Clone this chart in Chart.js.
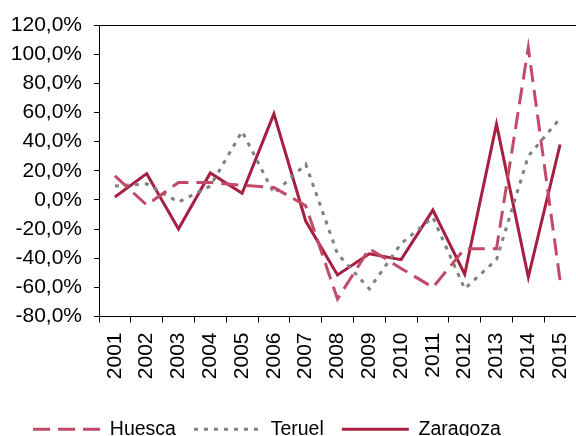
<!DOCTYPE html>
<html>
<head>
<meta charset="utf-8">
<script src="https://cdn.jsdelivr.net/npm/chart.js@4"></script>
<style>
html,body{margin:0;padding:0;background:#fff;}
#wrap{width:576px;height:436px;position:relative;}
</style>
</head>
<body>
<div id="wrap"><canvas id="c" width="576" height="436"></canvas></div>
<script>
const years = ['2001','2002','2003','2004','2005','2006','2007','2008','2009','2010','2011','2012','2013','2014','2015'];
const huesca = [16.5, -3.5, 12, 12, 10, 8.5, -4, -68, -33.5, -47, -60, -33.5, -33.5, 104.5, -55.5];
const teruel = [9.5, 11, -1.5, 9.5, 47, 4.5, 24.5, -37, -61, -30, -12, -61, -41, 30, 56];
const zaragoza = [2, 18, -20, 18.5, 4.5, 59, -14.5, -51.5, -37, -41, -7, -51, 52, -53, 38];
const yMin = -80, yMax = 120, yStep = 20;

const FONT = "'Liberation Sans', Arial, sans-serif";

const shiftLegend = {
  id: 'shiftLegend',
  afterLayout(chart) {
    const l = chart.legend;
    if (l) { l.left -= 21; l.right -= 21; l.top += 13; l.bottom += 13; }
  }
};

new Chart(document.getElementById('c'), {
  type: 'line',
  data: {
    labels: years,
    datasets: [
      { label: 'Huesca', data: huesca, borderColor: '#C04A68', borderWidth: 3, borderDash: [17, 8], pointRadius: 0, tension: 0, fill: false },
      { label: 'Teruel', data: teruel, borderColor: '#808080', borderWidth: 3, borderDash: [4, 6], pointRadius: 0, tension: 0, fill: false },
      { label: 'Zaragoza', data: zaragoza, borderColor: '#A61F40', borderWidth: 3, pointRadius: 0, tension: 0, fill: false }
    ]
  },
  options: {
    responsive: false,
    animation: false,
    devicePixelRatio: 1,
    layout: { padding: { top: 25, right: 0, left: 0, bottom: 0 } },
    plugins: {
      tooltip: { enabled: false },
      legend: {
        position: 'bottom',
        labels: {
          usePointStyle: true,
          pointStyle: 'line',
          pointStyleWidth: 67,
          boxHeight: 3,
          padding: 18,
          color: '#000',
          font: { family: FONT, size: 19.5 },
          generateLabels(chart) {
            const items = Chart.defaults.plugins.legend.labels.generateLabels(chart);
            items.forEach((it, i) => {
              const ds = chart.data.datasets[i];
              it.lineDash = ds.borderDash || [];
              it.lineWidth = ds.borderWidth;
              it.strokeStyle = ds.borderColor;
              it.pointStyle = 'line';
            });
            return items;
          }
        }
      }
    },
    scales: {
      x: {
        offset: true,
        grid: { display: true, drawOnChartArea: false, offset: true, tickLength: 6, color: '#000', tickColor: '#000' },
        border: { color: '#000', width: 1 },
        ticks: { maxRotation: 90, minRotation: 90, padding: 10, color: '#000', font: { family: FONT, size: 21 } },
        afterFit(s) { s.height = 72; s.paddingRight = 0; s.paddingLeft = 0; }
      },
      y: {
        min: yMin, max: yMax,
        grid: {
          color: (ctx) => (ctx.tick && ctx.tick.value === yMax) ? '#000' : 'rgba(0,0,0,0)',
          tickColor: '#000', tickLength: 5, lineWidth: 1
        },
        border: { color: '#000', width: 1 },
        ticks: {
          stepSize: yStep, padding: 12, color: '#000', font: { family: FONT, size: 21 },
          callback: (v) => v.toFixed(1).replace('.', ',') + '%'
        },
        afterFit(s) { s.width = 99; }
      }
    }
  },
  plugins: [shiftLegend]
});
</script>
</body>
</html>
